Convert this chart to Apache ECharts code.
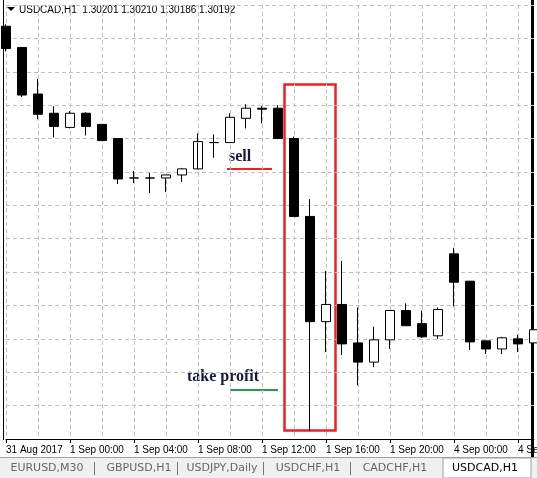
<!DOCTYPE html>
<html>
<head>
<meta charset="UTF-8">
<script src="https://cdn.jsdelivr.net/npm/echarts@6/dist/echarts.min.js"></script>
<style>
  body { margin: 0; background: #fff; }
  #chart { width: 537px; height: 478px; }
</style>
</head>
<body>
<div id="chart"></div>
<script>
// hourly bar times (label shown every 4th bar)
const times = ['31 Aug 2017', '31 Aug 21:00', '31 Aug 22:00', '31 Aug 23:00',
  '1 Sep 00:00', '1 Sep 01:00', '1 Sep 02:00', '1 Sep 03:00',
  '1 Sep 04:00', '1 Sep 05:00', '1 Sep 06:00', '1 Sep 07:00',
  '1 Sep 08:00', '1 Sep 09:00', '1 Sep 10:00', '1 Sep 11:00',
  '1 Sep 12:00', '1 Sep 13:00', '1 Sep 14:00', '1 Sep 15:00',
  '1 Sep 16:00', '1 Sep 17:00', '1 Sep 18:00', '1 Sep 19:00',
  '1 Sep 20:00', '1 Sep 21:00', '1 Sep 22:00', '1 Sep 23:00',
  '4 Sep 00:00', '4 Sep 01:00', '4 Sep 02:00', '4 Sep 03:00',
  '4 Sep 04:00', '4 Sep 05:00'];
// price in chart units
const opens  = [411, 390, 344, 325, 311, 325, 314, 300, 261, 261, 261, 264, 270, 296, 296, 320, 330, 330, 300, 223, 119, 136, 98, 79, 101, 130, 117, 105, 186, 159, 100, 92, 102, 98];
const closes = [389, 343, 324, 312, 325, 312, 298, 260, 261, 261, 264, 270, 297, 296, 321, 330, 329, 300, 223, 119, 136, 97, 79, 101, 130, 115, 104, 131, 158, 99, 92, 103, 97, 111];
const lows   = [386, 341, 319, 301, 310, 303, 298, 255, 256, 246, 247, 257, 296, 281, 296, 310, 315, 300, 223, 11, 89, 86, 56, 74, 92, 115, 103, 102, 134, 91, 87, 87, 89, 90];
const highs  = [413, 390, 359, 332, 327, 326, 314, 300, 268, 266, 264, 271, 305, 304, 325, 334, 332, 333, 302, 240, 169, 179, 133, 114, 130, 137, 130, 133, 192, 159, 100, 104, 106, 115];
const tabs = ['EURUSD,M30', 'GBPUSD,H1', 'USDJPY,Daily', 'USDCHF,H1', 'CADCHF,H1', 'USDCAD,H1'];
const tabX = [5, 97, 180, 266, 353, 443];

const candles = opens.map((o, i) => [o, closes[i], lows[i], highs[i]]);

const chart = echarts.init(document.getElementById('chart'));

const tabGraphics = [
  { type: 'rect', shape: { x: 0, y: 457, width: 537, height: 21 }, style: { fill: '#f0f0f0' } },
  { type: 'line', shape: { x1: 0, y1: 457.5, x2: 537, y2: 457.5 }, style: { stroke: '#a0a0a0', lineWidth: 1 } },
  { type: 'rect', shape: { x: 443, y: 458, width: 88, height: 20 }, style: { fill: '#fff', stroke: '#a0a0a0' } }
];
tabs.forEach((t, i) => {
  tabGraphics.push({
    type: 'text', x: tabX[i] + 42, y: 468,
    style: { text: t, font: '11px "DejaVu Sans"', fill: i === tabs.length - 1 ? '#000' : '#666', align: 'center', verticalAlign: 'middle' }
  });
  if (i > 0 && i < tabs.length - 1) {
    tabGraphics.push({ type: 'line', shape: { x1: tabX[i] - 2.5, y1: 462, x2: tabX[i] - 2.5, y2: 475 }, style: { stroke: '#777' } });
  }
});

chart.setOption({
  animation: false,
  grid: { left: 6, right: 3, top: 5, bottom: 39, outerBoundsMode: 'none', containLabel: false },
  xAxis: {
    type: 'category',
    data: times,
    boundaryGap: false,
    axisLine: { lineStyle: { color: '#000', width: 1 } },
    axisTick: { interval: 3, length: 4, lineStyle: { color: '#000' } },
    axisLabel: { interval: 3, align: 'left', margin: 6, color: '#000', fontSize: 10, fontFamily: 'Liberation Sans', hideOverlap: false },
    splitLine: { show: true, interval: 1, lineStyle: { color: '#c0c0c0', type: [4, 3] } }
  },
  yAxis: {
    type: 'value',
    min: 3, max: 432, interval: 33,
    axisLabel: { show: false },
    axisLine: { show: false },
    axisTick: { show: false },
    splitLine: { lineStyle: { color: '#c0c0c0', type: [4, 3] } }
  },
  series: [{
    type: 'candlestick',
    data: candles,
    barWidth: 10,
    itemStyle: {
      color: '#fff', borderColor: '#000',
      color0: '#000', borderColor0: '#000',
      borderWidth: 1
    }
  }],
  graphic: [
    { type: 'line', shape: { x1: 3.5, y1: 0, x2: 3.5, y2: 440 }, style: { stroke: '#000', lineWidth: 1 } },
    { type: 'rect', shape: { x: 531, y: 0, width: 3, height: 457 }, style: { fill: '#000' } },
    { type: 'polygon', shape: { points: [[7, 7], [15, 7], [11, 11]] }, style: { fill: '#000' } },
    { type: 'text', x: 19, y: 10, style: { text: 'USDCAD,H1  1.30201 1.30210 1.30186 1.30192', font: '10px "Liberation Sans"', fill: '#000', verticalAlign: 'middle' } },
    { type: 'rect', shape: { x: 284.5, y: 84.5, width: 51, height: 346 }, style: { fill: 'none', stroke: '#ee2028', lineWidth: 2.5 } },
    { type: 'text', x: 229, y: 157, style: { text: 'sell', font: 'bold 16px "Liberation Serif"', fill: '#141a3c', verticalAlign: 'middle' } },
    { type: 'line', shape: { x1: 227, y1: 169, x2: 272, y2: 169 }, style: { stroke: '#ee2028', lineWidth: 2 } },
    { type: 'text', x: 187, y: 377, style: { text: 'take profit', font: 'bold 16px "Liberation Serif"', fill: '#141a3c', verticalAlign: 'middle' } },
    { type: 'line', shape: { x1: 230, y1: 390, x2: 278, y2: 390 }, style: { stroke: '#23a046', lineWidth: 2 } }
  ].concat(tabGraphics)
});
</script>
</body>
</html>
